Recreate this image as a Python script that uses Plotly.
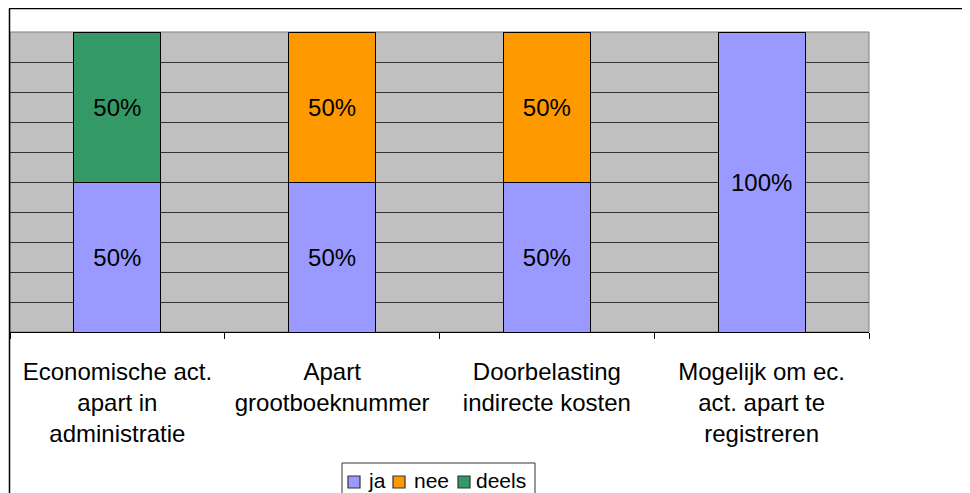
import plotly.graph_objects as go

categories = [
    "Economische act.<br>apart in<br>administratie",
    "Apart<br>grootboeknummer",
    "Doorbelasting<br>indirecte kosten",
    "Mogelijk om ec.<br>act. apart te<br>registreren",
]
ja = [50, 50, 50, 100]
nee = [0, 50, 50, 0]
deels = [50, 0, 0, 0]
series_names = ["ja", "nee", "deels"]
series_values = [ja, nee, deels]
series_colors = ["#9999FF", "#FF9900", "#339966"]

FONT = "Liberation Sans, Arial, sans-serif"

# plot area in figure pixels (page is offset by 8px body margin)
L, R, T, B = 2, 109, 24, 169
W, H = 970, 493
PW = W - L - R
PH = H - T - B


def px(fx):
    return (fx - L) / PW


def py(fy):
    return (T + PH - fy) / PH


fig = go.Figure()
for name, vals, color in zip(series_names, series_values, series_colors):
    fig.add_trace(go.Bar(
        name=name,
        x=categories,
        y=[v / 100 for v in vals],
        text=[f"{v}%" if v else "" for v in vals],
        textposition="inside",
        insidetextanchor="middle",
        textangle=0,
        textfont=dict(family=FONT, size=24, color="black"),
        marker=dict(color=color, line=dict(color="black", width=1)),
        showlegend=False,
    ))

shapes = [
    dict(type="rect", xref="paper", yref="paper", x0=0, x1=1, y0=0, y1=1,
         line=dict(color="#808080", width=1), layer="below"),
    # outer chart border (top and left)
    dict(type="line", xref="paper", yref="paper",
         x0=px(1), x1=px(W), y0=py(0.5), y1=py(0.5),
         line=dict(color="black", width=1.5)),
    dict(type="line", xref="paper", yref="paper",
         x0=px(1.5), x1=px(1.5), y0=py(0.5), y1=py(H + 5),
         line=dict(color="black", width=1.5)),
    # legend box
    dict(type="rect", xref="paper", yref="paper",
         x0=px(334), x1=px(527), y0=py(455), y1=py(H + 5),
         line=dict(color="#333333", width=1), fillcolor="white"),
]
annotations = []
legend_marker_x = [340, 385, 450]
legend_text_x = [358, 404, 466]
for name, color, mx, tx in zip(series_names, series_colors, legend_marker_x, legend_text_x):
    shapes.append(dict(type="rect", xref="paper", yref="paper",
                       x0=px(mx), x1=px(mx + 12), y0=py(468), y1=py(480),
                       line=dict(color="#333333", width=1.2), fillcolor=color))
    annotations.append(dict(xref="paper", yref="paper", x=px(tx), y=py(472.5),
                            xanchor="left", yanchor="middle", text=name, showarrow=False,
                            font=dict(family=FONT, size=21, color="black")))

fig.update_layout(
    barmode="stack",
    bargap=0.595,
    width=W,
    height=H,
    margin=dict(l=L, r=R, t=T, b=B, autoexpand=False),
    paper_bgcolor="white",
    plot_bgcolor="#C0C0C0",
    font=dict(family=FONT, size=24, color="black"),
    showlegend=False,
    xaxis=dict(
        tickson="boundaries",
        ticks="outside",
        ticklen=6,
        tickcolor="black",
        showline=True,
        linecolor="black",
        showgrid=False,
        ticklabelstandoff=18,
        tickfont=dict(family=FONT, size=24),
    ),
    yaxis=dict(
        range=[0, 1],
        dtick=0.1,
        showgrid=True,
        gridcolor="#333333",
        gridwidth=1,
        showticklabels=False,
        zeroline=False,
        fixedrange=True,
    ),
    shapes=shapes,
    annotations=annotations,
)

fig.write_html("out.html")
